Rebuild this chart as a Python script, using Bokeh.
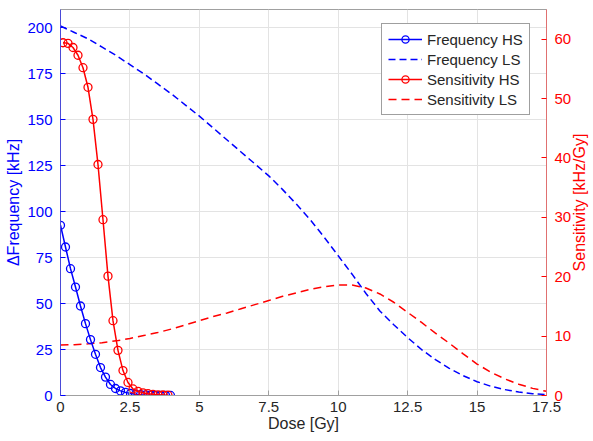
from bokeh.plotting import figure
from bokeh.models import Range1d, LinearAxis, FixedTicker, Legend, LegendItem, Label
from bokeh.embed import file_html
from bokeh.resources import INLINE

# ---- data ----
freq_hs_dose = [0, 0.18, 0.36, 0.54, 0.72, 0.90, 1.08, 1.26, 1.44, 1.62, 1.80, 1.98,
                2.16, 2.34, 2.52, 2.70, 2.88, 3.06, 3.24, 3.42, 3.60, 3.78, 3.96]
freq_hs = [92.6, 80.8, 69.0, 59.0, 48.7, 39.1, 30.4, 22.4, 15.2, 10.0, 6.0, 3.8,
           2.5, 1.7, 1.1, 0.7, 0.45, 0.3, 0.2, 0.12, 0.08, 0.05, 0.03]

sens_hs_dose = [0.09, 0.27, 0.45, 0.63, 0.81, 0.99, 1.17, 1.35, 1.53, 1.71, 1.89,
                2.07, 2.25, 2.43, 2.61, 2.79, 2.97, 3.15, 3.33, 3.51, 3.69, 3.87]
sens_hs = [59.4, 59.3, 58.6, 57.3, 55.2, 51.9, 46.5, 38.9, 29.6, 20.1, 12.6,
           7.6, 4.2, 2.2, 1.1, 0.7, 0.45, 0.3, 0.2, 0.12, 0.08, 0.05]

ls_dose = [0, 0.5, 1, 1.5, 2, 2.5, 3, 3.5, 4, 4.5, 5, 5.5, 6, 6.5, 7, 7.5, 8, 8.5,
           9, 9.5, 10, 10.5, 11, 11.5, 12, 12.5, 13, 13.5, 14, 14.5, 15, 15.5, 16,
           16.5, 17, 17.5]
freq_ls = [201, 197.5, 194, 189.5, 185, 180, 175, 169.5, 164, 158, 152, 145.5, 139,
           132.5, 126, 119.5, 112, 104, 95.5, 86, 76, 66, 55.5, 46, 38.5, 31.5, 25,
           19.5, 14.8, 10.8, 7.5, 5.0, 3.2, 1.9, 1.0, 0.4]
sens_ls = [8.5, 8.55, 8.7, 8.9, 9.2, 9.6, 10.1, 10.6, 11.2, 11.9, 12.6, 13.3, 13.9,
           14.6, 15.3, 16.0, 16.7, 17.3, 17.9, 18.3, 18.6, 18.6, 18.1, 17.1, 15.7,
           14.0, 12.3, 10.5, 8.8, 7.0, 5.3, 3.9, 2.8, 1.9, 1.2, 0.7]

x_ticks = [0, 2.5, 5, 7.5, 10, 12.5, 15, 17.5]
x_tick_labels = ["0", "2.5", "5", "7.5", "10", "12.5", "15", "17.5"]
left_ticks = [0, 25, 50, 75, 100, 125, 150, 175, 200]
right_ticks = [0, 10, 20, 30, 40, 50, 60]
x_range = (0, 17.5)
left_range = (0, 210)
right_range = (0, 65)

BLUE = "#0000ff"
RED = "#ff0000"
FONT = "Liberation Sans"
TXT = "#262626"
TICK_FS = "15px"
LABEL_FS = "16px"

p = figure(width=593, height=441, x_range=Range1d(*x_range), y_range=Range1d(*left_range),
           output_backend="svg", toolbar_location=None,
           min_border_left=60, min_border_right=47, min_border_top=9, min_border_bottom=46)
p.extra_y_ranges = {"sens": Range1d(*right_range)}

p.outline_line_color = "#a0a0a0"
p.grid.grid_line_color = "#e3e3e3"
p.grid.grid_line_width = 1

# x axis
xa = p.xaxis[0]
xa.ticker = FixedTicker(ticks=x_ticks)
xa.major_label_overrides = {t: l for t, l in zip(x_ticks, x_tick_labels)}
xa.axis_label = "Dose [Gy]"
xa.axis_line_color = "#a0a0a0"
xa.major_tick_line_color = "#a0a0a0"
xa.major_tick_in = 5
xa.major_tick_out = 0
xa.minor_tick_line_color = None
xa.major_label_text_color = TXT
xa.axis_label_text_color = TXT
xa.major_label_text_font = FONT
xa.axis_label_text_font = FONT
xa.major_label_text_font_size = TICK_FS
xa.axis_label_text_font_size = LABEL_FS
xa.axis_label_text_font_style = "normal"
xa.major_label_standoff = 6
xa.axis_label_standoff = 0

# left axis
ya = p.yaxis[0]
ya.ticker = FixedTicker(ticks=left_ticks)
ya.axis_label = "\u0394Frequency [kHz]"
ya.axis_line_color = "#4a4ad8"
ya.major_tick_line_color = BLUE
ya.major_tick_in = 5
ya.major_tick_out = 0
ya.minor_tick_line_color = None
ya.major_label_text_color = BLUE
ya.axis_label_text_color = BLUE
ya.major_label_text_font = FONT
ya.axis_label_text_font = FONT
ya.major_label_text_font_size = TICK_FS
ya.axis_label_text_font_size = LABEL_FS
ya.axis_label_text_font_style = "normal"
ya.major_label_standoff = 8
ya.axis_label_standoff = 2

# right axis: ticks and tick labels
ra = LinearAxis(y_range_name="sens", ticker=FixedTicker(ticks=right_ticks))
ra.axis_line_color = "#e07070"
ra.major_tick_line_color = RED
ra.major_tick_in = 5
ra.major_tick_out = 0
ra.minor_tick_line_color = None
ra.major_label_text_color = RED
ra.major_label_text_font = FONT
ra.major_label_text_font_size = TICK_FS
ra.major_label_standoff = 8
p.add_layout(ra, "right")

# right axis title, reading bottom-to-top, centred on the axis
right_label = Label(x=x_range[1], y=(left_range[0] + left_range[1]) / 2,
                    x_offset=33, text="Sensitivity [kHz/Gy]", angle=90, angle_units="deg",
                    text_align="center", text_baseline="middle", text_color=RED,
                    text_font=FONT, text_font_size=LABEL_FS)
p.add_layout(right_label, "right")

# glyphs
l_fls = p.line(ls_dose, freq_ls, line_color=BLUE, line_width=1.5, line_dash="7 4")
l_sls = p.line(ls_dose, sens_ls, line_color=RED, line_width=1.5, line_dash="8 5",
               y_range_name="sens")
l_fhs = p.line(freq_hs_dose, freq_hs, line_color=BLUE, line_width=1.5)
m_fhs = p.scatter(freq_hs_dose, freq_hs, marker="circle", size=8, fill_color=None,
                  line_color=BLUE, line_width=1.3)
l_shs = p.line(sens_hs_dose, sens_hs, line_color=RED, line_width=1.5, y_range_name="sens")
m_shs = p.scatter(sens_hs_dose, sens_hs, marker="circle", size=8, fill_color=None,
                  line_color=RED, line_width=1.3, y_range_name="sens")

legend = Legend(items=[
    LegendItem(label="Frequency HS", renderers=[l_fhs, m_fhs]),
    LegendItem(label="Frequency LS", renderers=[l_fls]),
    LegendItem(label="Sensitivity HS", renderers=[l_shs, m_shs]),
    LegendItem(label="Sensitivity LS", renderers=[l_sls]),
], location=(321, 280))
legend.label_text_font = FONT
legend.label_text_font_size = "15px"
legend.label_text_color = TXT
legend.border_line_color = "#404040"
legend.border_line_width = 1
legend.background_fill_color = "white"
legend.background_fill_alpha = 1
legend.glyph_width = 34
legend.glyph_height = 18
legend.label_height = 18
legend.spacing = 2
legend.padding = 6
legend.margin = 0
legend.label_standoff = 5
p.add_layout(legend, "center")

open("out.html", "w").write(file_html(p, INLINE))
